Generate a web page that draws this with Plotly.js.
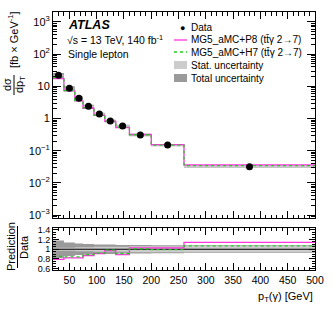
<!DOCTYPE html>
<html><head><meta charset="utf-8">
<script src="https://cdn.plot.ly/plotly-3.0.1.min.js"></script>
<style>html,body{margin:0;padding:0;background:#fff}#c{width:332px;height:319px}</style>
</head><body><div id="c"></div>
<script>
// Bin edges of p_T(gamma) [GeV]
const binEdges = [20, 40, 60, 75, 95, 115, 135, 160, 200, 260, 500];
// Measured dsigma/dpT [fb/GeV]
const dataValues = [22, 8.8, 4.3, 2.4, 1.38, 0.84, 0.59, 0.31, 0.15, 0.032];
// Prediction / Data ratios
const ratioP8 = [0.79, 0.82, 0.82, 0.87, 0.91, 0.97, 0.89, 1.03, 1.03, 1.14];
const ratioH7 = [0.85, 0.84, 0.84, 0.89, 0.92, 0.98, 0.91, 1.01, 0.99, 1.07];
// relative uncertainties
const relTotal = [0.18, 0.14, 0.12, 0.11, 0.10, 0.10, 0.09, 0.09, 0.085, 0.08];
const relStat  = [0.03, 0.03, 0.04, 0.04, 0.05, 0.05, 0.05, 0.06, 0.06, 0.07];
// tick labels
const yTickVals = [1e-3, 1e-2, 1e-1, 1, 10, 100, 1000];
const yTickText = ['10<sup>\u22123</sup>', '10<sup>\u22122</sup>', '10<sup>\u22121</sup>', '1', '10', '10<sup>2</sup>', '10<sup>3</sup>'];
const rTickVals = [0.6, 0.8, 1.0, 1.2, 1.4];
const rTickText = ['0.6', '0.8', '1', '1.2', '1.4'];
const xTickVals = [50, 100, 150, 200, 250, 300, 350, 400, 450, 500];

const centers = dataValues.map((_, i) => 0.5 * (binEdges[i] + binEdges[i + 1]));
const stepY = arr => arr.concat([arr[arr.length - 1]]);
const predP8 = dataValues.map((v, i) => v * ratioP8[i]);
const predH7 = dataValues.map((v, i) => v * ratioH7[i]);

const FONT = 'Liberation Sans, Arial, Helvetica, sans-serif';
const LIGHT = '#cccccc', DARK = '#9a9a9a';
const MAG = '#ff33dd', GRN = '#22cc22';

function band(vals, rel, color, xa, ya) {
  const lo = vals.map((v, i) => v * (1 - rel[i]));
  const hi = vals.map((v, i) => v * (1 + rel[i]));
  return [
    {x: binEdges, y: stepY(lo), xaxis: xa, yaxis: ya, mode: 'lines', line: {shape: 'hv', width: 0, color: color}, showlegend: false, hoverinfo: 'skip'},
    {x: binEdges, y: stepY(hi), xaxis: xa, yaxis: ya, mode: 'lines', fill: 'tonexty', fillcolor: color, line: {shape: 'hv', width: 0, color: color}, showlegend: false, hoverinfo: 'skip'}
  ];
}
const ones = dataValues.map(() => 1);

const traces = [].concat(
  band(dataValues, relTotal, DARK, 'x', 'y'),
  band(dataValues, relStat, LIGHT, 'x', 'y'),
  [
    {x: binEdges, y: stepY(predP8), xaxis: 'x', yaxis: 'y', mode: 'lines', line: {shape: 'hv', color: MAG, width: 1.3}, showlegend: false},
    {x: binEdges, y: stepY(predH7), xaxis: 'x', yaxis: 'y', mode: 'lines', line: {shape: 'hv', color: GRN, width: 1.3, dash: 'dot'}, showlegend: false},
    {x: centers, y: dataValues, xaxis: 'x', yaxis: 'y', mode: 'markers', marker: {color: 'black', size: 7}, showlegend: false}
  ],
  band(ones, relTotal, DARK, 'x2', 'y2'),
  band(ones, relStat, LIGHT, 'x2', 'y2'),
  [
    {x: [binEdges[0], binEdges[binEdges.length - 1]], y: [1, 1], xaxis: 'x2', yaxis: 'y2', mode: 'lines', line: {color: 'black', width: 1.2}, showlegend: false},
    {x: binEdges, y: stepY(ratioP8), xaxis: 'x2', yaxis: 'y2', mode: 'lines', line: {shape: 'hv', color: MAG, width: 1.3}, showlegend: false},
    {x: binEdges, y: stepY(ratioH7), xaxis: 'x2', yaxis: 'y2', mode: 'lines', line: {shape: 'hv', color: GRN, width: 1.3, dash: 'dot'}, showlegend: false}
  ]
);

// pixel helpers (plot area: x 53..315, y 12..270)
const L = 53, R = 315, T = 12, B = 270;
const px = v => (v - L) / (R - L);
const py = v => (B - v) / (B - T);

const minorLog = [];
for (let e = -4; e <= 3; e++) for (let d = 2; d <= 9; d++) minorLog.push(d * Math.pow(10, e));

const axX = {
  range: [20, 500], tickvals: xTickVals, ticks: 'inside', ticklen: 7, tickcolor: 'black',
  minor: {dtick: 10, tick0: 0, ticks: 'inside', ticklen: 3.5, tickcolor: 'black'},
  showline: true, linecolor: 'black', linewidth: 1, mirror: 'allticks', showgrid: false, zeroline: false
};

const ann = (x, y, text, size, extra) => Object.assign({xref: 'paper', yref: 'paper', x: px(x), y: py(y), text: text, showarrow: false, xanchor: 'left', yanchor: 'middle', font: {family: FONT, size: size, color: 'black'}}, extra || {});

const layout = {
  width: 332, height: 319,
  margin: {l: L, r: 332 - R, t: T, b: 319 - B, pad: 0},
  paper_bgcolor: 'white', plot_bgcolor: 'white',
  font: {family: FONT, color: 'black', size: 11},
  showlegend: false,
  xaxis: Object.assign({}, axX, {domain: [0, 1], anchor: 'y', showticklabels: false}),
  xaxis2: Object.assign({}, axX, {domain: [0, 1], anchor: 'y2', matches: 'x', showticklabels: true, tickfont: {size: 10.5}}),
  yaxis: {
    type: 'log', range: [-3.09, 3.31], domain: [py(218), 1], anchor: 'x',
    tickvals: yTickVals, ticktext: yTickText, ticks: 'inside', ticklen: 8, tickcolor: 'black', tickfont: {size: 11},
    minor: {tickvals: minorLog, ticks: 'inside', ticklen: 4, tickcolor: 'black'},
    showline: true, linecolor: 'black', linewidth: 1, mirror: 'allticks', showgrid: false, zeroline: false
  },
  yaxis2: {
    range: [0.57, 1.45], domain: [0, py(227.5)], anchor: 'x2',
    tickvals: rTickVals, ticktext: rTickText, ticks: 'inside', ticklen: 6, tickcolor: 'black', tickfont: {size: 9},
    minor: {dtick: 0.05, tick0: 0, ticks: 'inside', ticklen: 3, tickcolor: 'black'},
    showline: true, linecolor: 'black', linewidth: 1, mirror: 'allticks', showgrid: false, zeroline: false
  },
  annotations: [
    ann(66, 25, '<b><i>ATLAS</i></b>', 12.5),
    ann(65, 40, '\u221As = 13 TeV, 140 fb<sup>-1</sup>', 10.5),
    ann(66, 54, 'Single lepton', 10.5),
    // legend texts
    ann(189, 27, 'Data', 10),
    ann(189, 40, 'MG5_aMC+P8 (tt\u0304\u03B3 2\u21927)', 10),
    ann(189, 52, 'MG5_aMC+H7 (tt\u0304\u03B3 2\u21927)', 10),
    ann(189, 65, 'Stat. uncertainty', 10),
    ann(189, 78, 'Total uncertainty', 10),
    ann(182, 27.5, '\u25CF', 9, {xanchor: 'center'}),
    // y title main
    ann(7, 85, 'd\u03C3', 11, {xanchor: 'center', textangle: -90}),
    ann(20, 85, 'dp<sub>T</sub>', 11, {xanchor: 'center', textangle: -90}),
    ann(13, 40, '[fb \u00D7 GeV<sup>-1</sup>]', 11, {xanchor: 'center', textangle: -90}),
    // ratio y title
    ann(11, 247, 'Prediction', 11, {xanchor: 'center', textangle: -90}),
    ann(24, 247, 'Data', 11, {xanchor: 'center', textangle: -90}),
    // x title
    ann(315, 297, 'p<sub>T</sub>(\u03B3) [GeV]', 11, {xanchor: 'right'})
  ],
  shapes: [
    {type: 'line', xref: 'paper', yref: 'paper', x0: px(14), x1: px(14), y0: py(75), y1: py(95), line: {color: 'black', width: 1}},
    {type: 'line', xref: 'paper', yref: 'paper', x0: px(17.5), x1: px(17.5), y0: py(226), y1: py(268), line: {color: 'black', width: 1}},
    {type: 'line', xref: 'paper', yref: 'paper', x0: px(174), x1: px(187), y0: py(40), y1: py(40), line: {color: MAG, width: 1.3}},
    {type: 'line', xref: 'paper', yref: 'paper', x0: px(174), x1: px(187), y0: py(52), y1: py(52), line: {color: GRN, width: 1.3, dash: 'dot'}},
    {type: 'rect', xref: 'paper', yref: 'paper', x0: px(174), x1: px(187), y0: py(61), y1: py(69), fillcolor: LIGHT, line: {width: 0}},
    {type: 'rect', xref: 'paper', yref: 'paper', x0: px(174), x1: px(187), y0: py(74), y1: py(82), fillcolor: DARK, line: {width: 0}}
  ]
};

Plotly.newPlot('c', traces, layout, {staticPlot: true, displayModeBar: false});
</script>
</body></html>
